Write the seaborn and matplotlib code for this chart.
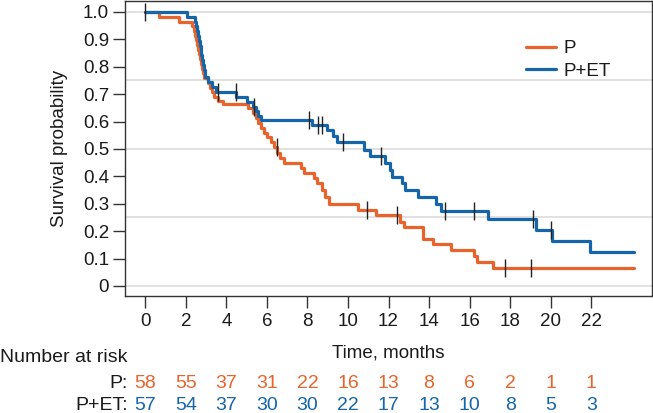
import numpy as np
import pandas as pd
import matplotlib
matplotlib.use("Agg")
import matplotlib.pyplot as plt
import matplotlib.transforms as mtrans
import seaborn as sns

# ---- data ----
groups = ["P", "P+ET"]
colors = {"P": "#E8642C", "P+ET": "#1565A8"}

times_P = [0, 0.66, 1.64, 2.3, 2.4, 2.45, 2.5, 2.55, 2.6, 2.65, 2.7, 2.75, 2.8, 2.85, 2.9,
           3.1, 3.2, 3.3, 3.4, 3.6, 3.85, 5.05, 5.3, 5.45, 5.55, 5.7, 5.85, 6.0, 6.2, 6.35,
           6.5, 6.65, 6.85, 7.7, 7.85, 8.3, 8.45, 8.7, 8.87, 9.05, 10.5, 11.4, 12.55, 12.75,
           13.7, 14.2, 15.1, 16.2, 16.35, 17.15, 24.1]
surv_P = [1.0, 0.983, 0.965, 0.948, 0.93, 0.914, 0.897, 0.879, 0.862, 0.845, 0.828, 0.81,
          0.793, 0.776, 0.759, 0.741, 0.724, 0.707, 0.69, 0.676, 0.665, 0.648, 0.63, 0.612,
          0.595, 0.578, 0.56, 0.545, 0.527, 0.508, 0.485, 0.466, 0.448, 0.43, 0.411, 0.393,
          0.375, 0.35, 0.326, 0.3, 0.277, 0.259, 0.235, 0.216, 0.17, 0.152, 0.13, 0.108,
          0.087, 0.065, 0.065]

times_E = [0, 2.07, 2.45, 2.5, 2.55, 2.6, 2.65, 2.7, 2.73, 2.77, 2.8, 2.85, 2.9, 2.95,
           3.1, 3.3, 3.5, 4.5, 5.0, 5.3, 5.45, 5.55, 5.7, 8.25, 8.95, 9.25, 9.45, 10.8,
           11.1, 11.85, 12.05, 12.15, 12.65, 12.8, 13.45, 14.35, 14.6, 16.9, 19.3, 20.05,
           21.95, 24.1]
surv_E = [1.0, 0.982, 0.965, 0.947, 0.93, 0.912, 0.895, 0.877, 0.86, 0.842, 0.825, 0.807,
          0.789, 0.764, 0.745, 0.727, 0.709, 0.69, 0.673, 0.655, 0.64, 0.622, 0.605, 0.587,
          0.568, 0.548, 0.525, 0.498, 0.474, 0.45, 0.425, 0.398, 0.375, 0.35, 0.324, 0.3,
          0.273, 0.243, 0.204, 0.164, 0.123, 0.123]

cens_P = [6.48, 10.96, 12.44, 17.77, 19.03]
cens_E = [0, 3.6, 4.48, 5.37, 8.1, 8.5, 8.7, 9.75, 11.65, 14.8, 16.2, 19.15, 20.0]

risk_times = [0, 2, 4, 6, 8, 10, 12, 14, 16, 18, 20, 22]
risk_P = [58, 55, 37, 31, 22, 16, 13, 8, 6, 2, 1, 1]
risk_E = [57, 54, 37, 30, 30, 22, 17, 13, 10, 8, 5, 3]

y_ticks = [0, 0.1, 0.2, 0.3, 0.4, 0.5, 0.6, 0.7, 0.8, 0.9, 1.0]
y_ticklabels = ["0", "0.1", "0.2", "0.3", "0.4", "0.5", "0.6", "0.7", "0.8", "0.9", "1.0"]

TXT = "#1a1a1a"
FS = 13.5
FT = 14

# ---- figure ----
sns.set_theme(style="white")
plt.rcParams["font.family"] = ["Liberation Sans", "DejaVu Sans"]

fig = plt.figure(figsize=(6.53, 4.13), dpi=100)
ax = fig.add_axes([125 / 653, 1 - 296 / 413, 527 / 653, 295 / 413])

df = pd.concat([
    pd.DataFrame({"time": times_P, "surv": surv_P, "group": "P"}),
    pd.DataFrame({"time": times_E, "surv": surv_E, "group": "P+ET"}),
], ignore_index=True)

sns.lineplot(data=df, x="time", y="surv", hue="group", hue_order=groups,
             palette=colors, drawstyle="steps-post", estimator=None, sort=False,
             linewidth=2.3, ax=ax, legend=True, zorder=3)

# censor marks
for t_arr, s_arr, cens in [(times_P, surv_P, cens_P), (times_E, surv_E, cens_E)]:
    idx = np.searchsorted(np.array(t_arr), np.array(cens), side="right") - 1
    yv = np.array(s_arr)[idx]
    ax.plot(cens, yv, ls="none", marker="|", color="#222222", ms=13, mew=1.0, zorder=5)

# gridlines
for g in [0, 0.25, 0.5, 0.75, 1.0]:
    ax.axhline(g, color="#dcdcdc", lw=1.2, zorder=1)

ax.set_xlim(-1, 25)
ax.set_ylim(-0.0365, 1.040)
ax.set_xticks(risk_times)
ax.set_xticklabels([str(t) for t in risk_times], fontsize=FS)
ax.set_yticks(y_ticks)
ax.set_yticklabels(y_ticklabels, fontsize=FS)
ax.tick_params(axis="both", direction="out", length=8.5, width=1.0, color="#333333",
               left=True, bottom=True, labelcolor=TXT)
ax.tick_params(axis="x", pad=4)
ax.tick_params(axis="y", pad=3)
for sp in ax.spines.values():
    sp.set_color("#333333")
    sp.set_linewidth(1.0)

ax.set_xlabel("Time, months", fontsize=FS, labelpad=10, color=TXT)
ax.set_ylabel("Survival probability", fontsize=FS, labelpad=11, color=TXT)

leg = ax.legend(loc="upper left", bbox_to_anchor=(0.728, 0.925), frameon=False,
                fontsize=FS, handlelength=1.6, handletextpad=0.4, labelspacing=0.3)
for h in leg.get_lines():
    h.set_linewidth(2.3)
for t in leg.get_texts():
    t.set_color(TXT)

# number at risk table
trans = mtrans.blended_transform_factory(ax.transData, fig.transFigure)
fig.text(0.0, 1 - 358 / 413, "Number at risk", fontsize=FT, va="center", ha="left",
         color=TXT)
ax.text(-0.85, 1 - 383 / 413, "P:", transform=trans, fontsize=FT, ha="right",
        va="center", color=TXT)
ax.text(-0.85, 1 - 405 / 413, "P+ET:", transform=trans, fontsize=FT, ha="right",
        va="center", color=TXT)
for t, a, b in zip(risk_times, risk_P, risk_E):
    ax.text(t, 1 - 383 / 413, str(a), transform=trans, fontsize=FT, ha="center",
            va="center", color=colors["P"])
    ax.text(t, 1 - 405 / 413, str(b), transform=trans, fontsize=FT, ha="center",
            va="center", color=colors["P+ET"])

fig.savefig("out.png", dpi=100)
